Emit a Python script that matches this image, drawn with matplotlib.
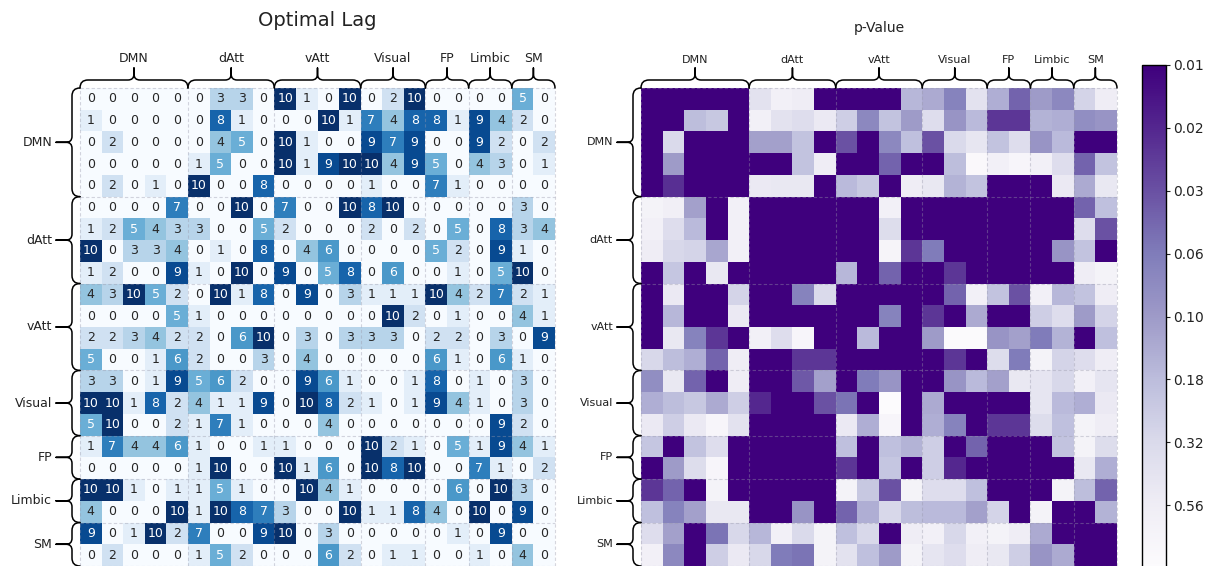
import numpy as np
import matplotlib
matplotlib.use("Agg")
import matplotlib.pyplot as plt
from matplotlib.colors import LogNorm
from matplotlib.path import Path
from matplotlib.patches import PathPatch
from matplotlib.ticker import NullLocator
import seaborn as sns

# ---------------- data ----------------
networks = ["DMN", "dAtt", "vAtt", "Visual", "FP", "Limbic", "SM"]
network_sizes = [5, 4, 4, 3, 2, 2, 2]

optimal_lag = np.array([
    [0, 0, 0, 0, 0, 0, 3, 3, 0, 10, 1, 0, 10, 0, 2, 10, 0, 0, 0, 0, 5, 0],
    [1, 0, 0, 0, 0, 0, 8, 1, 0, 0, 0, 10, 1, 7, 4, 8, 8, 1, 9, 4, 2, 0],
    [0, 2, 0, 0, 0, 0, 4, 5, 0, 10, 1, 0, 0, 9, 7, 9, 0, 0, 9, 2, 0, 2],
    [0, 0, 0, 0, 0, 1, 5, 0, 0, 10, 1, 9, 10, 10, 4, 9, 5, 0, 4, 3, 0, 1],
    [0, 2, 0, 1, 0, 10, 0, 0, 8, 0, 0, 0, 0, 1, 0, 0, 7, 1, 0, 0, 0, 0],
    [0, 0, 0, 0, 7, 0, 0, 10, 0, 7, 0, 0, 10, 8, 10, 0, 0, 0, 0, 0, 3, 0],
    [1, 2, 5, 4, 3, 3, 0, 0, 5, 2, 0, 0, 0, 2, 0, 2, 0, 5, 0, 8, 3, 4],
    [10, 0, 3, 3, 4, 0, 1, 0, 8, 0, 4, 6, 0, 0, 0, 0, 5, 2, 0, 9, 1, 0],
    [1, 2, 0, 0, 9, 1, 0, 10, 0, 9, 0, 5, 8, 0, 6, 0, 0, 1, 0, 5, 10, 0],
    [4, 3, 10, 5, 2, 0, 10, 1, 8, 0, 9, 0, 3, 1, 1, 1, 10, 4, 2, 7, 2, 1],
    [0, 0, 0, 0, 5, 1, 0, 0, 0, 0, 0, 0, 0, 0, 10, 2, 0, 1, 0, 0, 4, 1],
    [2, 2, 3, 4, 2, 2, 0, 6, 10, 0, 3, 0, 3, 3, 3, 0, 2, 2, 0, 3, 0, 9],
    [5, 0, 0, 1, 6, 2, 0, 0, 3, 0, 4, 0, 0, 0, 0, 0, 6, 1, 0, 6, 1, 0],
    [3, 3, 0, 1, 9, 5, 6, 2, 0, 0, 9, 6, 1, 0, 0, 1, 8, 0, 1, 0, 3, 0],
    [10, 10, 1, 8, 2, 4, 1, 1, 9, 0, 10, 8, 2, 1, 0, 1, 9, 4, 1, 0, 3, 0],
    [5, 10, 0, 0, 2, 1, 7, 1, 0, 0, 0, 4, 0, 0, 0, 0, 0, 0, 0, 9, 2, 0],
    [1, 7, 4, 4, 6, 1, 0, 0, 1, 1, 0, 0, 0, 10, 2, 1, 0, 5, 1, 9, 4, 1],
    [0, 0, 0, 0, 0, 1, 10, 0, 0, 10, 1, 6, 0, 10, 8, 10, 0, 0, 7, 1, 0, 2],
    [10, 10, 1, 0, 1, 1, 5, 1, 0, 0, 10, 4, 1, 0, 0, 0, 0, 6, 0, 10, 3, 0],
    [4, 0, 0, 0, 10, 1, 10, 8, 7, 3, 0, 0, 10, 1, 1, 8, 4, 0, 10, 0, 9, 0],
    [9, 0, 1, 10, 2, 7, 0, 0, 9, 10, 0, 3, 0, 0, 0, 0, 0, 1, 0, 9, 0, 0],
    [0, 2, 0, 0, 0, 1, 5, 2, 0, 0, 0, 6, 2, 0, 1, 1, 0, 0, 1, 0, 4, 0],
])

p_value = np.array([
    [.01, .01, .01, .01, .01, .40, .63, .56, .01, .01, .01, .01, .16, .13, .063, .40, .14, .04, .10, .071, .28, .56],
    [.01, .01, .18, .22, .01, .63, .40, .35, .50, .25, .071, .20, .10, .35, .089, .17, .022, .022, .15, .14, .079, .089],
    [.01, .32, .01, .01, .01, .11, .11, .20, .01, .032, .01, .071, .19, .032, .32, .45, .20, .35, .089, .17, .01, .01],
    [.01, .10, .01, .01, .01, .01, .01, .20, .56, .01, .01, .04, .01, .01, .18, .89, .63, .79, .63, .35, .04, .20],
    [.01, .02, .01, .01, .01, .50, .47, .47, .01, .17, .22, .01, .56, .47, .15, .20, .01, .01, .01, .50, .13, .47],
    [.71, .60, .11, .01, .63, .01, .01, .01, .01, .01, .01, .63, .01, .01, .01, .01, .01, .01, .01, .01, .04, .19],
    [.63, .35, .17, .01, .63, .01, .01, .01, .01, .01, .01, .34, .01, .01, .01, .01, .01, .01, .01, .01, .35, .032],
    [.56, .30, .28, .12, .63, .01, .01, .01, .01, .01, .01, .76, .022, .056, .01, .01, .01, .01, .01, .089, .20, .01],
    [.01, .21, .01, .47, .01, .01, .01, .01, .01, .16, .01, .04, .01, .01, .022, .01, .01, .01, .01, .01, .56, .71],
    [.01, .50, .01, .01, .28, .01, .01, .063, .32, .01, .01, .01, .01, .01, .04, .63, .20, .032, .63, .16, .20, .56],
    [.01, .16, .01, .01, .50, .01, .01, .01, .01, .01, .01, .063, .01, .022, .01, .13, .01, .01, .25, .35, .10, .28],
    [.01, .47, .063, .022, .01, .63, .35, .79, .01, .01, .17, .01, .01, .10, .95, .95, .089, .11, .056, .15, .01, .19],
    [.30, .18, .14, .04, .56, .01, .01, .022, .022, .01, .01, .01, .01, .01, .022, .01, .34, .056, .71, .28, .35, .56],
    [.079, .47, .04, .01, .56, .01, .01, .035, .11, .01, .056, .089, .01, .01, .089, .17, .11, .47, .43, .30, .63, .43],
    [.14, .18, .22, .13, .25, .018, .01, .01, .032, .05, .01, 1.0, .01, .13, .01, .01, .01, .01, .43, .17, .14, .50],
    [.50, .25, .50, .79, .40, .01, .01, .01, .01, .50, .14, .79, .01, .14, .063, .01, .022, .022, .34, .19, .71, .56],
    [.21, .01, .20, .35, .01, .01, .01, .01, .01, .19, .01, .19, .15, .25, .01, .04, .01, .01, .01, .20, .71, .34],
    [.01, .10, .34, .79, .01, .01, .01, .01, .01, .022, .01, .21, .01, .25, .018, .01, .01, .01, .01, .01, .47, .14],
    [.022, .04, .01, .71, .01, .01, .01, .01, .01, .71, .22, .032, .71, .35, .35, .19, .01, .01, .01, .71, .18, .04],
    [.19, .063, .11, .47, .47, .01, .01, .089, .01, .04, .14, .30, .18, .17, .17, .11, .28, .01, .71, .01, .01, .15],
    [.35, .11, .01, .05, .30, .16, .63, .32, .71, .19, .30, .01, .56, .63, .30, .63, .71, .56, .13, .01, .01, .01],
    [.63, .071, .01, .25, .50, .30, .056, .05, .71, .40, .19, .10, .71, .43, .35, .56, .47, .25, .089, .13, .01, .01],
])

cbar_ticks = [0.01, 0.0178, 0.0316, 0.0562, 0.1, 0.178, 0.316, 0.562]
cbar_ticklabels = ["0.01", "0.02", "0.03", "0.06", "0.10", "0.18", "0.32", "0.56"]

# ---------------- figure ----------------
W, H = 1205, 566
fig = plt.figure(figsize=(W / 100, H / 100), dpi=100)
TXT = "#222222"


def px_axes(x0, y0, x1, y1):
    """axes from a pixel box measured from the top-left corner"""
    return fig.add_axes([x0 / W, 1 - y1 / H, (x1 - x0) / W, (y1 - y0) / H])


n = optimal_lag.shape[0]
bounds = np.concatenate([[0], np.cumsum(network_sizes)])

# left: optimal lag
ax1 = px_axes(80, 88, 555, 566)
sns.heatmap(optimal_lag, ax=ax1, cmap="Blues", vmin=0, vmax=10, annot=True,
            fmt="d", annot_kws={"size": 9}, cbar=False,
            xticklabels=False, yticklabels=False)

# right: p-values
ax2 = px_axes(641, 88, 1117, 566)
mesh = ax2.pcolormesh(p_value, cmap="Purples_r", norm=LogNorm(vmin=0.01, vmax=1))
ax2.set_xlim(0, n)
ax2.set_ylim(n, 0)
ax2.set_xticks([])
ax2.set_yticks([])
for s in ax2.spines.values():
    s.set_visible(False)

for ax in (ax1, ax2):
    for b in bounds:
        ax.axvline(b, color=(0.6, 0.6, 0.67), alpha=0.4, ls=(0, (3, 2)), lw=0.8, clip_on=False)
        ax.axhline(b, color=(0.6, 0.6, 0.67), alpha=0.4, ls=(0, (3, 2)), lw=0.8, clip_on=False)

# colorbar
cax = px_axes(1142, 65, 1166, 568)
cb = fig.colorbar(mesh, cax=cax)
cax.invert_yaxis()
cb.set_ticks(cbar_ticks)
cb.set_ticklabels(cbar_ticklabels)
cax.yaxis.set_minor_locator(NullLocator())
cax.tick_params(labelsize=10, length=3, width=0.8, pad=2, colors=TXT)
cb.outline.set_linewidth(1.0)

# titles
fig.text((80 + 555) / 2 / W, 1 - 20 / H, "Optimal Lag", ha="center", va="center",
         fontsize=14, color=TXT)
fig.text((641 + 1117) / 2 / W, 1 - 28 / H, "p-Value", ha="center", va="center",
         fontsize=10, color=TXT)

# braces overlay (pixel coordinates, y upward)
ov = fig.add_axes([0, 0, 1, 1])
ov.set_xlim(0, W)
ov.set_ylim(0, H)
ov.axis("off")
ov.set_zorder(10)


def brace_path(a, b, depth, vm=8.0, r2=6.0):
    r = min(vm, (b - a) / 4)
    um = (a + b) / 2
    verts = [(a, 0), (a, vm), (a + r, vm), (um - r2, vm), (um, vm), (um, vm + r2), (um, depth),
             (um, vm + r2), (um, vm), (um + r2, vm), (b - r, vm), (b, vm), (b, 0)]
    codes = [Path.MOVETO, Path.CURVE3, Path.CURVE3, Path.LINETO, Path.CURVE3, Path.CURVE3,
             Path.LINETO, Path.LINETO, Path.CURVE3, Path.CURVE3, Path.LINETO, Path.CURVE3,
             Path.CURVE3]
    return np.array(verts, float), codes


for ax, fs in ((ax1, 9), (ax2, 8)):
    xs = ax.transData.transform(np.column_stack([bounds, np.zeros_like(bounds)]))[:, 0]
    ys = ax.transData.transform(np.column_stack([np.zeros_like(bounds), bounds]))[:, 1]
    top = ax.transAxes.transform((0, 1))[1]
    left = ax.transAxes.transform((0, 0))[0]
    for i, name in enumerate(networks):
        # top brace
        dep_t = 20
        v, c = brace_path(xs[i], xs[i + 1], dep_t)
        pts = np.column_stack([v[:, 0], top + v[:, 1]])
        ov.add_patch(PathPatch(Path(pts, c), fill=False, lw=1.1, color="black",
                               capstyle="round", joinstyle="round"))
        ov.text((xs[i] + xs[i + 1]) / 2, top + dep_t + 3, name, ha="center", va="bottom",
                fontsize=fs, color=TXT)
        # left brace
        y_a, y_b = sorted([ys[i], ys[i + 1]])
        dep_l = 24
        v, c = brace_path(y_a, y_b, dep_l)
        pts = np.column_stack([left - v[:, 1], v[:, 0]])
        ov.add_patch(PathPatch(Path(pts, c), fill=False, lw=1.1, color="black",
                               capstyle="round", joinstyle="round"))
        ov.text(left - dep_l - 4, (y_a + y_b) / 2, name, ha="right", va="center",
                fontsize=fs, color=TXT)

fig.savefig("out.png", dpi=100)
